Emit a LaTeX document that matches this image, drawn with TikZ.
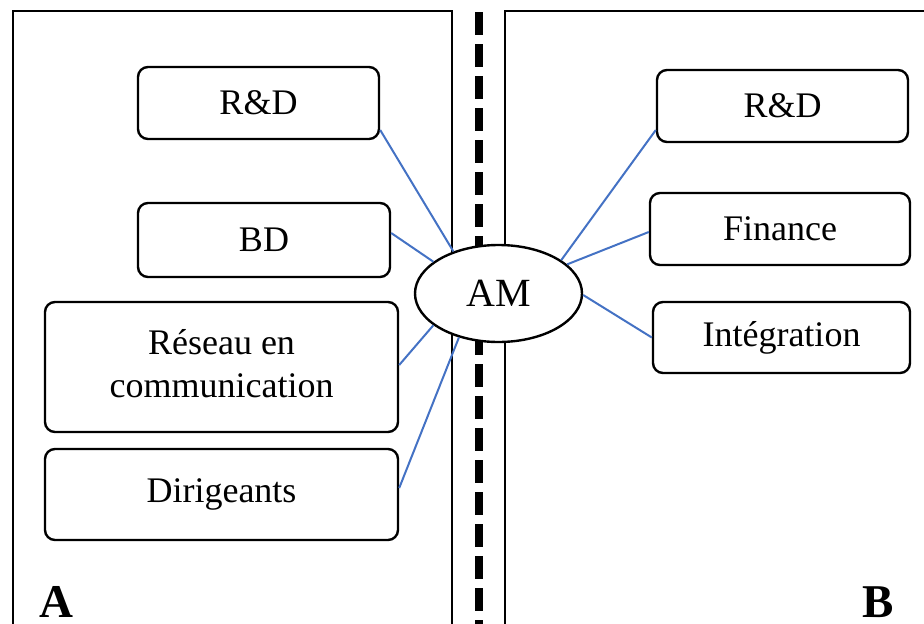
\documentclass[tikz,border=0pt]{standalone}
\usepackage{fontspec}
\setmainfont{Liberation Serif}
\usetikzlibrary{shapes.geometric,calc}
\definecolor{conblue}{HTML}{4472C4}
\tikzset{
  box/.style={draw=black, line width=2.4pt, rounded corners=10pt, fill=white,
    inner sep=0pt, align=center, font=\fontsize{36}{43}\selectfont},
  conn/.style={draw=conblue, line width=2pt},
  panel/.style={draw=black, line width=2.4pt},
  bigletter/.style={inner sep=0pt, anchor=base west, font=\fontsize{47}{50}\selectfont\bfseries}
}
\begin{document}
\begin{tikzpicture}[x=1pt,y=-1pt]
\useasboundingbox (0,0) rectangle (924,624);
\clip (0,0) rectangle (924,624);
% panels
\draw[panel] (13,640) -- (13,11) -- (452,11) -- (452,640);
\draw[panel] (505,640) -- (505,11) -- (940,11);
% central dashed separator
\draw[line width=8pt, dash pattern=on 23pt off 9pt] (478.5,12) -- (478.5,640);
% boxes
\node[box, minimum width=241, minimum height=72] (rdl) at (258.5,103) {R\&D};
\node[box, minimum width=252, minimum height=74] (bd) at (264,240) {BD};
\node[box, minimum width=353, minimum height=130] (res) at (221.5,367) {\raisebox{6pt}{\begin{tabular}{@{}c@{}}Réseau en\\communication\end{tabular}}};
\node[box, minimum width=353, minimum height=91] (dir) at (221.5,494.5) {\raisebox{6pt}{Dirigeants}};
\node[box, minimum width=251, minimum height=72] (rdr) at (782.5,106) {R\&D};
\node[box, minimum width=260, minimum height=72] (fin) at (780,229) {Finance};
\node[box, minimum width=257, minimum height=71] (int) at (781.5,337.5) {Intégration};
% central ellipse
\node[ellipse, draw=black, line width=2.4pt, fill=white, inner sep=0pt,
  minimum width=167, minimum height=97, font=\fontsize{40}{44}\selectfont] (am) at (498.5,293.5) {AM};
% connectors
\draw[conn] ([yshift=-27pt]rdl.east) -- (am.137.6);
\draw[conn] ([yshift=7pt]bd.east) -- (am.154.3);
\draw[conn] ([yshift=2pt]res.east) -- (am.206);
\draw[conn] ([yshift=6.5pt]dir.east) -- (am.228);
\draw[conn] ([yshift=-24pt]rdr.west) -- (am.28.6);
\draw[conn] ([yshift=-3pt]fin.west) -- (am.23.2);
\draw[conn] (int.west) -- (am.359);
% labels
\node[bigletter] (la) at (39,617) {A};
\node[bigletter] (lb) at (862,617) {B};
\end{tikzpicture}
\end{document}
